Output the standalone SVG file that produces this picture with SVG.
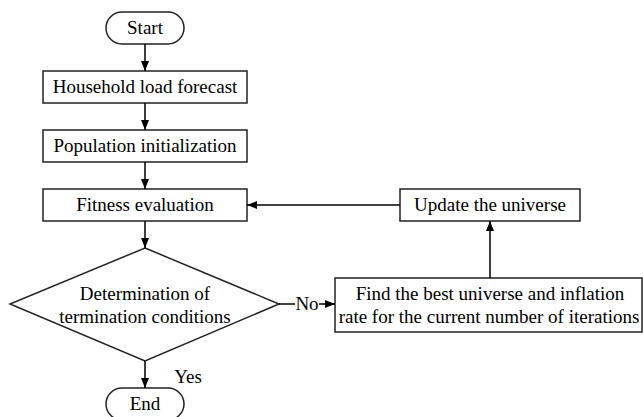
<svg xmlns="http://www.w3.org/2000/svg" width="643" height="417" viewBox="0 0 643 417">
<defs>
<marker id="ah" markerWidth="10" markerHeight="8" refX="10" refY="4" orient="auto" markerUnits="userSpaceOnUse">
<path d="M0,0 L10,4 L0,8 Z" fill="#000"/>
</marker>
<style>
.s{fill:#fff;stroke:#222;stroke-width:1.5}
.c{stroke:#000;stroke-width:1.5;fill:none;marker-end:url(#ah)}
.l{stroke:#000;stroke-width:1.5;fill:none}
</style>
</defs>
<rect width="643" height="417" fill="#fff"/>
<g font-family="Liberation Serif, Times New Roman, serif" font-size="19" fill="#000" text-anchor="middle">
<g id="start"><rect class="s" x="106" y="12" width="78" height="32" rx="16"/><text x="145" y="34">Start</text></g>
<g id="household"><rect class="s" x="43" y="71" width="204" height="32"/><text x="145" y="93">Household load forecast</text></g>
<g id="population"><rect class="s" x="43" y="130" width="204" height="32"/><text x="145" y="152">Population initialization</text></g>
<g id="fitness"><rect class="s" x="43" y="189" width="204" height="32"/><text x="145" y="211">Fitness evaluation</text></g>
<g id="decision"><polygon class="s" points="145,248 279,304 145,361 10,304"/><text x="145" y="300">Determination of</text><text x="145" y="323">termination conditions</text></g>
<g id="end"><rect class="s" x="106" y="388" width="78" height="32" rx="16"/><text x="145" y="410">End</text></g>
<g id="find"><rect class="s" x="335" y="278" width="307" height="54"/><text x="490" y="300">Find the best universe and inflation</text><text x="489" y="323">rate for the current number of iterations</text></g>
<g id="update"><rect class="s" x="400" y="189" width="180" height="32"/><text x="490" y="211">Update the universe</text></g>
<g id="connectors">
<line class="l" x1="279" y1="304" x2="295" y2="304"/>
<line class="c" x1="319" y1="304" x2="335" y2="304"/>
<line class="c" x1="145" y1="44" x2="145" y2="71"/>
<line class="c" x1="145" y1="103" x2="145" y2="130"/>
<line class="c" x1="145" y1="162" x2="145" y2="189"/>
<line class="c" x1="145" y1="221" x2="145" y2="248"/>
<line class="c" x1="145" y1="361" x2="145" y2="388"/>
<line class="c" x1="490" y1="278" x2="490" y2="221"/>
<line class="c" x1="400" y1="205" x2="247" y2="205"/>
<text x="307" y="310">No</text>
<text x="188" y="383">Yes</text>
</g>
</g>
</svg>
